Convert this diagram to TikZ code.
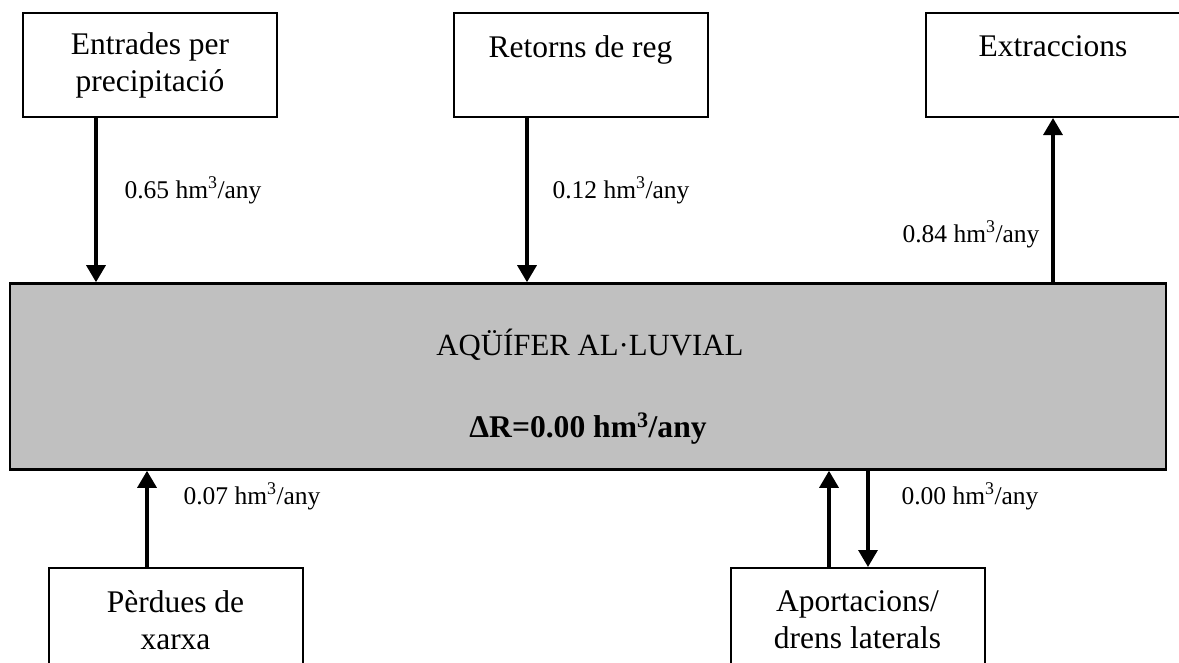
\documentclass[tikz,border=0pt]{standalone}
\usepackage{fontspec}
\setmainfont{Liberation Serif}
\usetikzlibrary{arrows.meta}
\definecolor{aqgrey}{HTML}{C0C0C0}
\begin{document}
\begin{tikzpicture}[x=1pt,y=-1pt,
  box/.style={draw,line width=2pt,minimum width=254pt,minimum height=104pt,inner sep=0pt,align=center,font=\fontsize{31.5}{37}\selectfont},
  flow/.style={line width=3.3pt,-{Triangle[width=19pt,length=17pt]}},
  lbl/.style={font=\fontsize{25.5}{30}\selectfont,anchor=base,inner sep=0pt},
  maintext/.style={font=\fontsize{30.8}{36}\selectfont,anchor=base,inner sep=0pt}]
\useasboundingbox (0,0) rectangle (1179,662);
\node[box] (ent) at (150,65) {Entrades per\\precipitació};
\node[box] (ret) at (580.5,65) {Retorns de reg\\\mbox{}};
\node[box] (ext) at (1053,65) {Extraccions\\\mbox{}};
\node[draw,line width=2.6pt,fill=aqgrey,minimum width=1156pt,minimum height=186pt,inner sep=0pt] (main) at (588,376.5) {};
\node[maintext] (mt1) at (590,355) {AQÜÍFER AL·LUVIAL};
\node[maintext,font=\fontsize{31.6}{36}\selectfont\bfseries] (mt2) at (588,437) {ΔR=0.00 hm\textsuperscript{3}/any};
\node[box] (per) at (175.5,620) {Pèrdues de\\xarxa};
\node[box] (apo) at (857.5,620) {Aportacions/\\drens laterals};
\draw[flow] ([xshift=-54pt]ent.south) -- ([xshift=-54pt]ent.south |- main.north);
\draw[flow] ([xshift=-53.5pt]ret.south) -- ([xshift=-53.5pt]ret.south |- main.north);
\draw[flow] (ext.south |- main.north) -- (ext.south);
\draw[flow] ([xshift=-28.5pt]per.north) -- ([xshift=-28.5pt]per.north |- main.south);
\draw[flow] ([xshift=-28.5pt]apo.north) -- ([xshift=-28.5pt]apo.north |- main.south);
\draw[flow] ([xshift=10.5pt]apo.north |- main.south) -- ([xshift=10.5pt]apo.north);
\node[lbl] (l1) at (193,198) {0.65 hm\textsuperscript{3}/any};
\node[lbl] (l2) at (621,198) {0.12 hm\textsuperscript{3}/any};
\node[lbl] (l3) at (971,242) {0.84 hm\textsuperscript{3}/any};
\node[lbl] (l4) at (252,504) {0.07 hm\textsuperscript{3}/any};
\node[lbl] (l5) at (970,504) {0.00 hm\textsuperscript{3}/any};
\end{tikzpicture}
\end{document}
